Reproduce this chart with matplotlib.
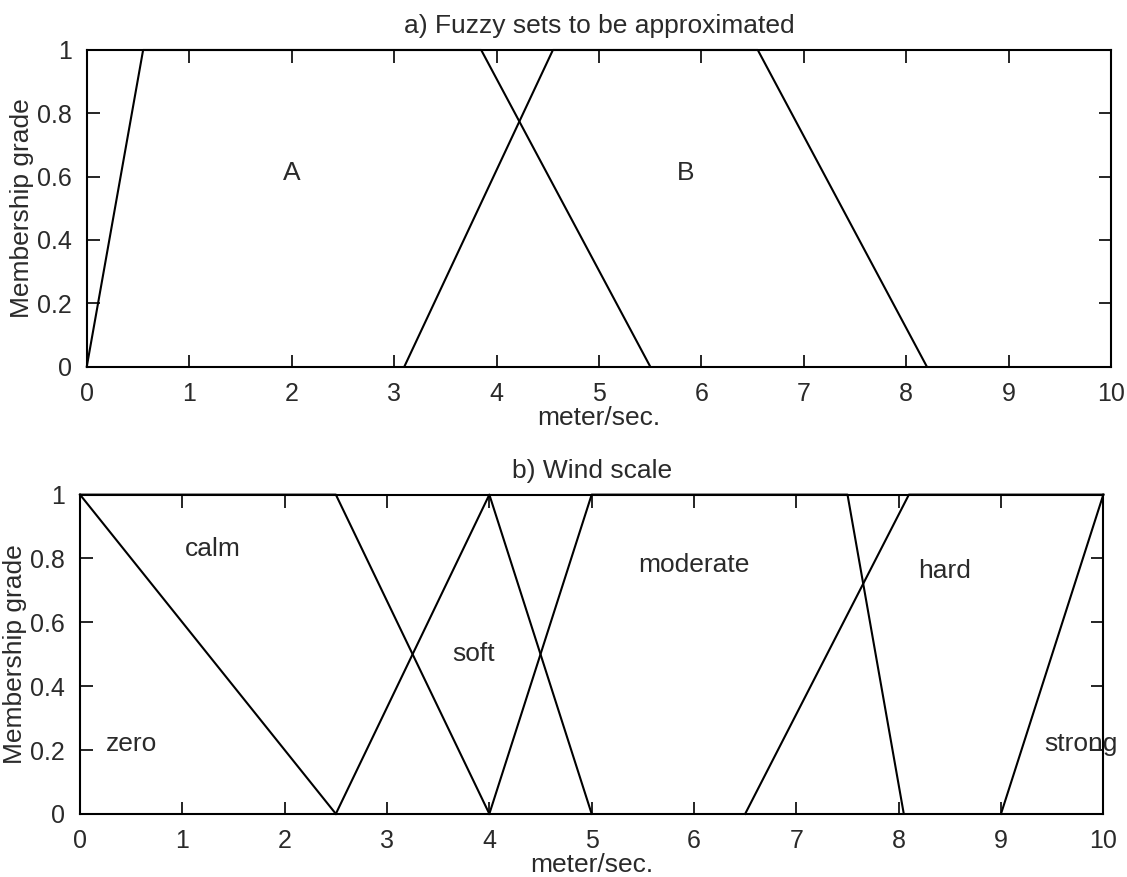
import matplotlib.pyplot as plt

plt.rcParams['font.family'] = ['Liberation Sans', 'DejaVu Sans']

# a) sets to be approximated: breakpoints (meter/sec.) and grades
sets_a_names = ['A', 'B']
sets_a_x = [[0, 0.55, 3.85, 5.5], [3.1, 4.55, 6.55, 8.2]]
sets_a_mu = [[0, 1, 1, 0], [0, 1, 1, 0]]
sets_a_label_x = [2.0, 5.85]
sets_a_label_y = [0.61, 0.61]

# b) wind scale terms
wind_names = ['zero', 'calm', 'soft', 'moderate', 'hard', 'strong']
wind_x = [[0, 2.5], [0, 2.5, 4], [2.5, 4, 5], [4, 5, 7.5, 8.05],
          [6.5, 8.1, 10], [9, 10]]
wind_mu = [[1, 0], [1, 1, 0], [0, 1, 0], [0, 1, 1, 0], [0, 1, 1], [0, 1]]
wind_label_x = [0.5, 1.3, 3.85, 6.0, 8.45, 9.78]
wind_label_y = [0.22, 0.83, 0.5, 0.78, 0.76, 0.22]

x_ticks = list(range(0, 11))
y_ticks = [0, 0.2, 0.4, 0.6, 0.8, 1]
y_tick_labels = ['0', '0.2', '0.4', '0.6', '0.8', '1']

TEXT = '#2a2a2a'
FS = 19
TICK_FS = 18


def draw_panel(ax, xs, mus, names, lx, ly, title):
    for x, mu in zip(xs, mus):
        ax.plot(x, mu, color='black', lw=1.5, clip_on=False)
    for name, tx, ty in zip(names, lx, ly):
        ax.text(tx, ty, name, ha='center', va='center', fontsize=FS, color=TEXT)
    ax.set_xlim(0, 10)
    ax.set_ylim(0, 1)
    ax.set_xticks(x_ticks)
    ax.set_yticks(y_ticks)
    ax.set_yticklabels(y_tick_labels)
    ax.tick_params(direction='in', top=True, right=True, length=9, width=1.2,
                   labelsize=TICK_FS, labelcolor=TEXT, pad=11)
    for s in ax.spines.values():
        s.set_linewidth(1.5)
    ax.set_xlabel('meter/sec.', fontsize=FS, color=TEXT, labelpad=0)
    ax.set_ylabel('Membership grade', fontsize=FS, color=TEXT, labelpad=2)
    ax.set_title(title, fontsize=FS, color=TEXT, pad=12)


fig = plt.figure(figsize=(11.27, 8.77), dpi=100)
ax1 = fig.add_axes([0.077, 0.582, 0.909, 0.361])
ax2 = fig.add_axes([0.071, 0.072, 0.908, 0.364])

draw_panel(ax1, sets_a_x, sets_a_mu, sets_a_names, sets_a_label_x,
           sets_a_label_y, 'a) Fuzzy sets to be approximated')
draw_panel(ax2, wind_x, wind_mu, wind_names, wind_label_x,
           wind_label_y, 'b) Wind scale')

fig.savefig('out.png', dpi=100)
